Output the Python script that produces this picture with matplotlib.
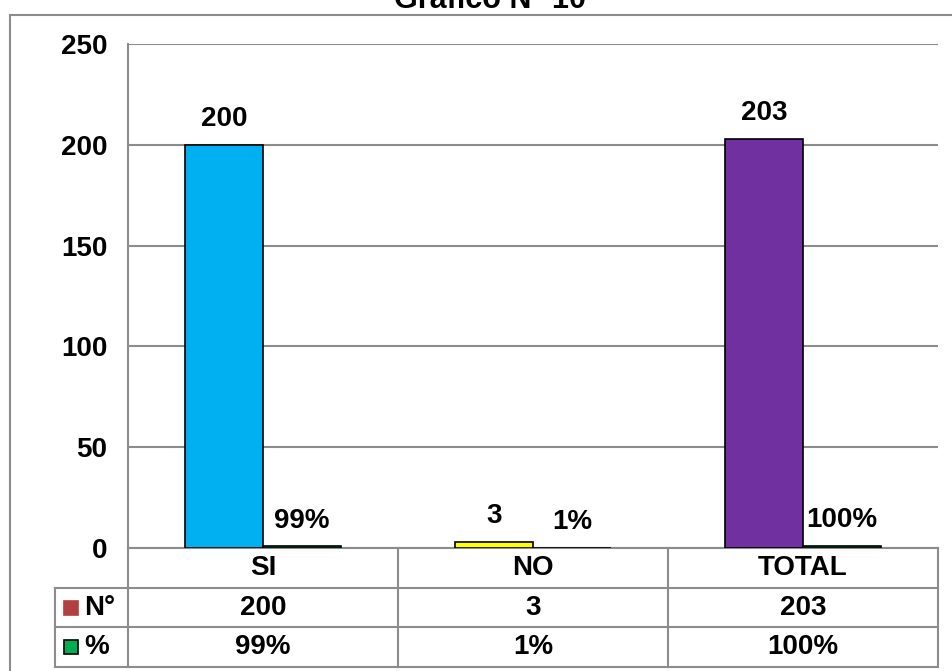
import matplotlib.pyplot as plt
import numpy as np
from matplotlib.lines import Line2D
from matplotlib.transforms import blended_transform_factory

plt.rcParams['font.family'] = ['Liberation Sans', 'DejaVu Sans']
plt.rcParams['font.weight'] = 'bold'

categories = ['SI', 'NO', 'TOTAL']
counts = [200, 3, 203]
percents = [0.99, 0.01, 1.00]
pct_labels = ['99%', '1%', '100%']
bar_colors = ['#00B0F0', '#FFFF00', '#7030A0']
row_names = ['N°', '%']
row_colors = ['#B0413E', '#00B050']

GRID = '#8C8C8C'
FS = 20

fig = plt.figure(figsize=(9.52, 6.71), dpi=100)
ax = fig.add_axes([128 / 952, 123 / 671, 810 / 952, 504 / 671])

x = np.arange(len(categories))
width = 0.289
b1 = ax.bar(x - width / 2, counts, width, color=bar_colors, edgecolor='black', linewidth=1.2, zorder=3)
b2 = ax.bar(x + width / 2, percents, width, color=row_colors[1], edgecolor='black', linewidth=1.2, zorder=3)
ax.bar_label(b1, padding=9, fontsize=FS, fontweight='bold')
ax.bar_label(b2, labels=pct_labels, padding=9, fontsize=FS, fontweight='bold')

ax.set_xlim(-0.5, len(categories) - 0.5)
ax.set_ylim(0, 250)
ax.set_yticks(np.arange(0, 251, 50))
ax.tick_params(axis='y', length=0, pad=15, labelsize=FS)
ax.tick_params(axis='x', length=0, labelbottom=False)
ax.yaxis.grid(True, color=GRID, linewidth=1.5, zorder=0)
for s in ['top', 'right', 'bottom']:
    ax.spines[s].set_visible(False)
ax.spines['left'].set_color(GRID)
ax.spines['left'].set_linewidth(1.5)

# data table under the plot
trans = blended_transform_factory(ax.transData, ax.transAxes)
rh = 39.7 / 504
lw = 1.5
left_col = -0.5 - 73 / 270
n = len(categories)
# horizontal lines
ax.add_line(Line2D([-0.5, n - 0.5], [0, 0], transform=trans, color=GRID, lw=lw, clip_on=False))
for i in range(1, 4):
    ax.add_line(Line2D([left_col, n - 0.5], [-i * rh, -i * rh], transform=trans, color=GRID, lw=lw, clip_on=False))
# vertical lines
ax.add_line(Line2D([left_col, left_col], [-rh, -3 * rh], transform=trans, color=GRID, lw=lw, clip_on=False))
for k in range(n + 1):
    ax.add_line(Line2D([k - 0.5, k - 0.5], [0, -3 * rh], transform=trans, color=GRID, lw=lw, clip_on=False))

rows = [categories, [str(c) for c in counts], pct_labels]
for r, row in enumerate(rows):
    for k, txt in enumerate(row):
        ax.text(k, -(r + 0.5) * rh, txt, transform=trans, ha='center', va='center',
                fontsize=FS, fontweight='bold')

for r, name in enumerate(row_names):
    yc = -(r + 1.5) * rh
    ax.plot([-0.5 - 57 / 270], [yc], transform=trans, marker='s', markersize=10,
            color=row_colors[r], markeredgecolor='black' if r == 1 else row_colors[r],
            markeredgewidth=1.2, clip_on=False)
    ax.text(-0.5 - 44 / 270, yc, name, transform=trans, ha='left', va='center',
            fontsize=FS, fontweight='bold')

# outer chart frame (partly cropped)
fig.add_artist(Line2D([10 / 952, 10 / 952], [0, 1 - 15 / 671], transform=fig.transFigure, color=GRID, lw=1.5))
fig.add_artist(Line2D([10 / 952, 1], [1 - 15 / 671, 1 - 15 / 671], transform=fig.transFigure, color=GRID, lw=1.5))

fig.text(490 / 952, 1 - 8 / 671, 'Grafico N° 10', ha='center', va='baseline', fontsize=22, fontweight='bold')

fig.savefig('out.png', dpi=100)
